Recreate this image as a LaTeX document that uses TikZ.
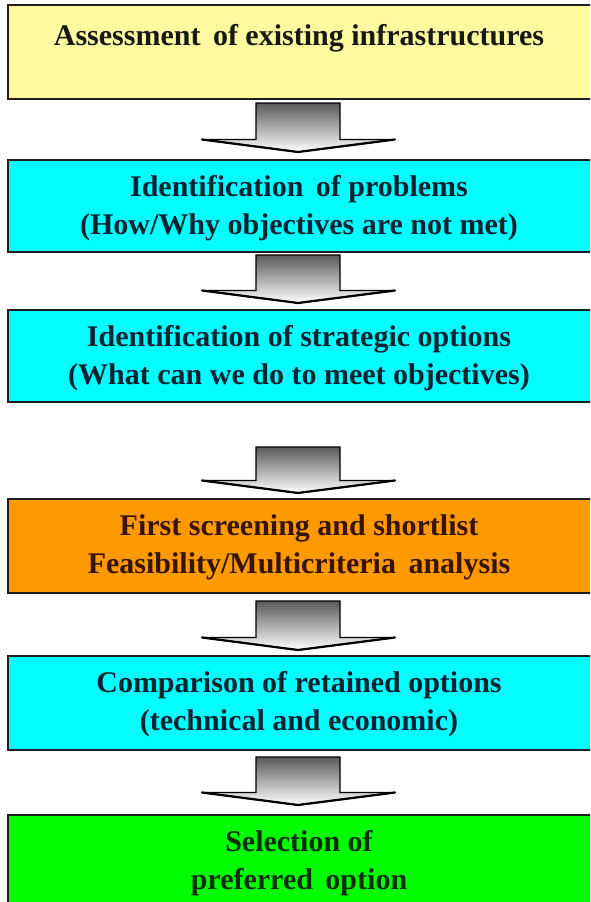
\documentclass[tikz,border=0pt]{standalone}
\usepackage{fontspec}
\setmainfont{Liberation Serif}
\usetikzlibrary{calc}

\definecolor{boxyellow}{RGB}{255,250,160}
\definecolor{boxcyan}{RGB}{0,255,255}
\definecolor{boxorange}{RGB}{255,153,0}
\definecolor{boxgreen}{RGB}{0,255,0}
\definecolor{boxline}{RGB}{30,30,30}
\definecolor{inkdark}{RGB}{25,25,20}
\definecolor{inkcyan}{RGB}{10,35,50}
\definecolor{inkorange}{RGB}{55,20,0}
\definecolor{inkgreen}{RGB}{10,45,10}

\tikzset{
  panel/.style={draw=boxline, line width=2.5pt, minimum width=584pt,
    anchor=north west, inner sep=0pt, outer sep=0pt},
  caption/.style={font=\fontsize{30}{38}\selectfont\bfseries, align=center,
    inner sep=0pt, anchor=north},
  blockshade/.style={top color=black!65, bottom color=white, draw=black,
    line width=1.3pt, line join=miter}
}

% block arrow: #1 = top of the shaft, #2 = tip of the head
\newcommand\blockarrow[2]{%
  \path[blockshade] let \p1=(#1), \p2=(#2) in
    (\x2-42pt,\y1) -- (\x2+42pt,\y1) -- (\x2+42pt,\y2+12.5pt)
    -- (\x2+97pt,\y2+12.5pt) -- (\x2,\y2) -- (\x2-96pt,\y2+12.5pt)
    -- (\x2-42pt,\y2+12.5pt) -- cycle;
  \draw[line width=2.2pt, line cap=round] let \p1=(#1), \p2=(#2) in
    (\x2-96pt,\y2+12.5pt) -- (\x2,\y2) -- (\x2+97pt,\y2+12.5pt);}

\begin{document}
\begin{tikzpicture}[x=1pt,y=1pt]
\useasboundingbox (0,0) rectangle (590,-902);
\begin{scope}
\clip (0,0) rectangle (590,-902);

% boxes
\node[panel, fill=boxyellow, minimum height=94pt] (b1) at (8,-5) {};
\node[panel, fill=boxcyan,   minimum height=92pt] (b2) at (8,-160) {};
\node[panel, fill=boxcyan,   minimum height=92pt] (b3) at (8,-310) {};
\node[panel, fill=boxorange, minimum height=94pt] (b4) at (8,-499) {};
\node[panel, fill=boxcyan,   minimum height=94pt] (b5) at (8,-656) {};
\node[panel, fill=boxgreen,  minimum height=100pt] (b6) at (8,-815) {};

% captions
\node[caption, text=inkdark] (t1) at ($(b1.north)+(-1,-19.5)$)
  {Assessment\ \,of existing infrastructures};
\node[caption, text=inkcyan] (t2) at ($(b2.north)+(-1,-15.5)$)
  {Identification\ \,of problems\\(How/Why objectives are not met)};
\node[caption, text=inkcyan] (t3) at ($(b3.north)+(-1,-15.5)$)
  {Identification of strategic options\\(What can we do to meet objectives)};
\node[caption, text=inkorange] (t4) at ($(b4.north)+(-1,-15.5)$)
  {First screening and shortlist\\Feasibility/Multicriteria\ \,analysis};
\node[caption, text=inkcyan] (t5) at ($(b5.north)+(-1,-15.5)$)
  {Comparison of retained options\\(technical and economic)};
\node[caption, text=inkgreen] (t6) at ($(b6.north)+(-1,-15.5)$)
  {Selection of\\preferred\ \,option};

% arrow end points
\coordinate (a1s) at ($(b1.south)+(-2,-4)$);
\coordinate (a1e) at ($(b2.north)+(-2,8)$);
\coordinate (a2s) at ($(b2.south)+(-2,-3)$);
\coordinate (a2e) at ($(b3.north)+(-2,7)$);
\coordinate (a3s) at ($(b3.south)+(-2,-45)$);
\coordinate (a3e) at ($(b4.north)+(-2,6)$);
\coordinate (a4s) at ($(b4.south)+(-2,-8)$);
\coordinate (a4e) at ($(b5.north)+(-2,6)$);
\coordinate (a5s) at ($(b5.south)+(-2,-7)$);
\coordinate (a5e) at ($(b6.north)+(-2,10)$);

\blockarrow{a1s}{a1e}
\blockarrow{a2s}{a2e}
\blockarrow{a3s}{a3e}
\blockarrow{a4s}{a4e}
\blockarrow{a5s}{a5e}
\end{scope}
\end{tikzpicture}
\end{document}
